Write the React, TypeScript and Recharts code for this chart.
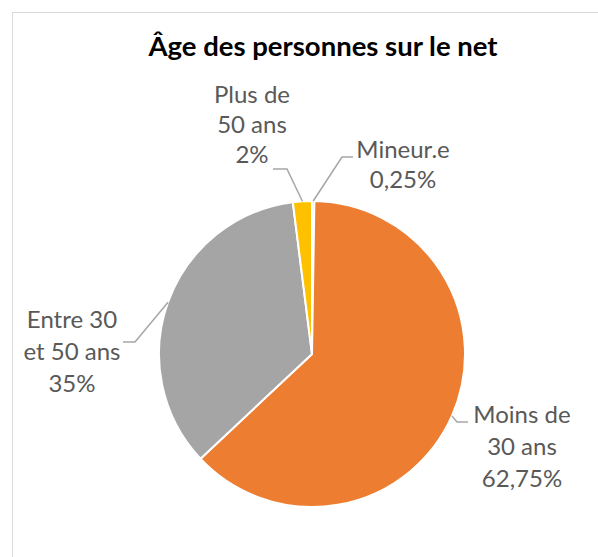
import { PieChart, Pie, Cell } from 'recharts';

const categories = ['Mineur.e', 'Moins de 30 ans', 'Entre 30 et 50 ans', 'Plus de 50 ans'];
const shares = [0.25, 62.75, 35, 2];
const shareLabels = ['0,25%', '62,75%', '35%', '2%'];
const colors = ['#4472C4', '#ED7D31', '#A5A5A5', '#FFC000'];

// label text lines, split as on the picture
const labelLines = [
  ['Mineur.e', '0,25%'],
  ['Moins de', '30 ans', '62,75%'],
  ['Entre 30', 'et 50 ans', '35%'],
  ['Plus de', '50 ans', '2%'],
];

// leader elbow / end and text block position, per slice
const labelLayout = [
  { elbow: [342, 157], end: [353, 157], tx: 403, ty: 158, lh: 30 },
  { elbow: [457, 422], end: [468, 422], tx: 522, ty: 423, lh: 32 },
  { elbow: [135, 342], end: [123, 342], tx: 72, ty: 328, lh: 32 },
  { elbow: [287, 169], end: [273, 169], tx: 252, ty: 103, lh: 30 },
];

const data = categories.map((name, i) => ({ name, value: shares[i], text: shareLabels[i] }));

const RAD = Math.PI / 180;
const FONT = 'Lato, sans-serif';

function renderLabel(props: any) {
  const { cx, cy, midAngle, outerRadius, index } = props;
  const lay = labelLayout[index];
  const sx = cx + outerRadius * Math.cos(-midAngle * RAD);
  const sy = cy + outerRadius * Math.sin(-midAngle * RAD);
  return (
    <g key={`lbl-${index}`}>
      <polyline
        points={`${sx},${sy} ${lay.elbow[0]},${lay.elbow[1]} ${lay.end[0]},${lay.end[1]}`}
        fill="none"
        stroke="#A6A6A6"
        strokeWidth={1.5}
      />
      <text textAnchor="middle" fill="#595959" fontFamily={FONT} fontSize={24}>
        {labelLines[index].map((line, i) => (
          <tspan key={i} x={lay.tx} y={lay.ty + i * lay.lh}>
            {line}
          </tspan>
        ))}
      </text>
    </g>
  );
}

export default function App() {
  return (
    <div style={{ position: 'fixed', left: 0, top: 0, width: 598, height: 557, background: '#fff', overflow: 'hidden' }}>
      {/* chart frame */}
      <div
        style={{
          position: 'absolute',
          left: 12,
          top: 12,
          width: 700,
          height: 700,
          border: '1.5px solid #D9D9D9',
        }}
      />
      <div
        style={{
          position: 'absolute',
          left: 0,
          top: 30,
          width: 646,
          textAlign: 'center',
          fontFamily: FONT,
          fontWeight: 700,
          fontSize: 27.5,
          color: '#000',
          lineHeight: '32px',
        }}
      >
        Âge des personnes sur le net
      </div>
      <div style={{ position: 'absolute', left: 0, top: 0 }}>
        <PieChart width={598} height={557} margin={{ top: 0, right: 0, bottom: 0, left: 0 }}>
          <Pie
            data={data}
            dataKey="value"
            nameKey="name"
            cx={312}
            cy={354}
            outerRadius={153}
            startAngle={90}
            endAngle={-270}
            stroke="#fff"
            strokeWidth={2}
            labelLine={false}
            label={renderLabel}
            isAnimationActive={false}
          >
            {data.map((entry, i) => (
              <Cell key={`cell-${i}`} fill={colors[i]} />
            ))}
          </Pie>
        </PieChart>
      </div>
    </div>
  );
}
